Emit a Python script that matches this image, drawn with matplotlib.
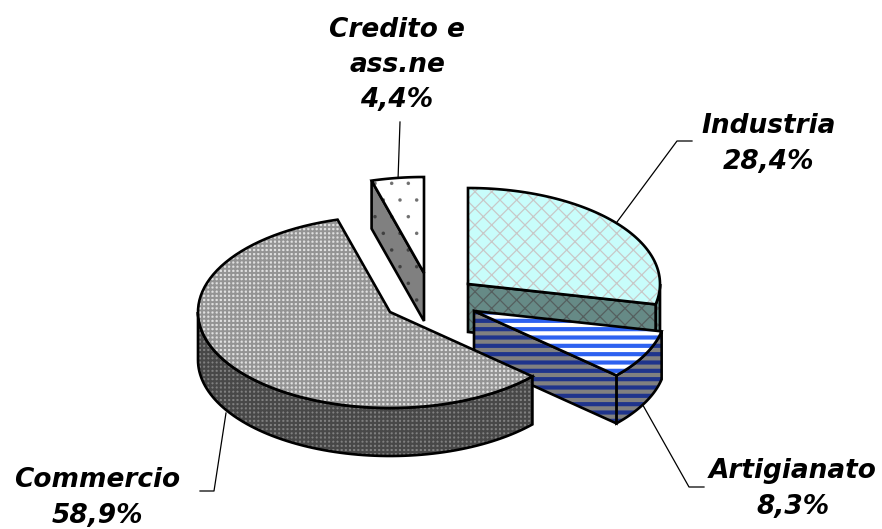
import numpy as np
import matplotlib
matplotlib.use("Agg")
import matplotlib.pyplot as plt
from matplotlib.patches import Polygon

categories = ["Industria", "Artigianato", "Commercio", "Credito e\nass.ne"]
shares = [28.4, 8.3, 58.9, 4.4]
share_labels = ["28,4%", "8,3%", "58,9%", "4,4%"]

# layout: apex of each exploded slice, ellipse radii, extrusion depth
apexes = [(468, 284), (474, 311), (390, 312), (424, 273)]
RX, RY, DEPTH = 192, 96, 48

fig = plt.figure(figsize=(8.82, 5.29), dpi=100)
ax = fig.add_axes([0, 0, 1, 1])
ax.set_xlim(0, 882)
ax.set_ylim(529, 0)
ax.axis("off")

fracs = np.array(shares) / np.sum(shares)
ends = np.cumsum(fracs) * 2 * np.pi
starts = ends - fracs * 2 * np.pi


def rim(apex, a0, a1, n=80):
    t = np.linspace(a0, a1, n)
    return np.column_stack([apex[0] + RX * np.sin(t), apex[1] - RY * np.cos(t)])


def face(pts, fc, hc, hatch, hlw, z):
    plt.rcParams["hatch.linewidth"] = hlw
    p = Polygon(pts, closed=True, facecolor=fc, edgecolor=hc, hatch=hatch, lw=0, zorder=z)
    ax.add_patch(p)
    ax.add_patch(Polygon(pts, closed=True, fill=False, edgecolor="black", lw=1.9,
                         joinstyle="miter", zorder=z + 0.1))


down = np.array([0, DEPTH])

# Credito
ap = np.array(apexes[3]); a0, a1 = starts[3], ends[3]
r = rim(ap, a0, a1)
face(np.array([r[0], ap, ap + down, r[0] + down]), "#808080", "#404040", ".", 0.1, 2)
face(np.vstack([ap, r]), "white", "#707070", ".", 0.1, 2.5)

# Industria
ap = np.array(apexes[0]); a0, a1 = starts[0], ends[0]
r = rim(ap, a0, a1)
rr = rim(ap, np.pi / 2, a1, 20)
face(np.vstack([rr, (rr + down)[::-1]]), "#668a86", "#555f5f", "xx", 0.9, 3)
face(np.array([ap, r[-1], r[-1] + down, ap + down]), "#668a86", "#555f5f", "xx", 0.9, 3.2)
face(np.vstack([ap, r]), "#c8fdfb", "#c8c8c8", "xx", 0.9, 3.5)

# Artigianato
ap = np.array(apexes[1]); a0, a1 = starts[1], ends[1]
r = rim(ap, a0, a1)
face(np.vstack([r, (r + down)[::-1]]), "#808080", "#1f348c", "--", 3.0, 4)
face(np.array([ap, r[-1], r[-1] + down, ap + down]), "#808080", "#1f348c", "--", 3.0, 4.2)
face(np.vstack([ap, r]), "white", "#2e62f0", "--", 3.0, 4.5)

# Commercio
ap = np.array(apexes[2]); a0, a1 = starts[2], ends[2]
r = rim(ap, a0, a1)
rr = rim(ap, a0, 3 * np.pi / 2)
face(np.vstack([rr, (rr + down)[::-1]]), "#808080", "#484848", "++++", 1.5, 5)
face(np.vstack([ap, r]), "#e0e0e0", "#949494", "++++", 1.4, 5.5)

# leader lines
leaders = [
    [(692, 141), (677, 141), (617, 222)],
    [(704, 487), (689, 487), (640, 400)],
    [(200, 491), (214, 491), (226, 413)],
    [(400, 122), (398, 180)],
]
for pts in leaders:
    x, y = zip(*pts)
    ax.plot(x, y, color="black", lw=0.9, zorder=0.5)

# labels
label_pos = [(769, 144), (793, 489), (97, 498), (397, 65)]
for cat, val, (x, y) in zip(categories, share_labels, label_pos):
    ax.text(x, y, f"{cat}\n{val}", ha="center", va="center", fontsize=19,
            family="DejaVu Sans", fontweight="bold", fontstyle="italic",
            linespacing=1.47, color="black", zorder=10)

fig.savefig("out.png", dpi=100)
